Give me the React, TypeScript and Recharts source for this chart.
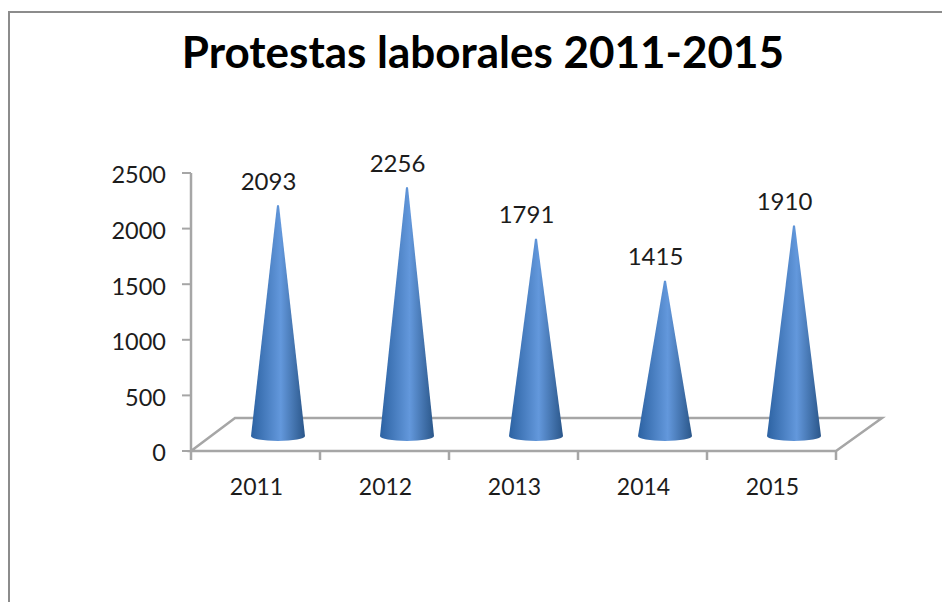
import { BarChart, Bar, XAxis, YAxis, LabelList, usePlotArea } from "recharts";

const years = ["2011", "2012", "2013", "2014", "2015"];
const protests = [2093, 2256, 1791, 1415, 1910];
const yTicks = [0, 500, 1000, 1500, 2000, 2500];

const FONT = "Lato, Carlito, sans-serif";
const GREY = "#a6a6a6";
// the cones stand in the middle of the floor's depth, so they shift from the axes
const DEPTH_X = 44;
const DEPTH_Y = 33;
const CONE_DX = 22;
const CONE_DY = -13;

const data = years.map((year, i) => ({ year, value: protests[i] }));

function Floor() {
  const plot = usePlotArea();
  if (!plot) return null;
  const left = plot.x;
  const right = plot.x + plot.width;
  const base = plot.y + plot.height;
  const band = plot.width / years.length;
  const marks = [0, ...years.map((_, i) => i + 1)];
  return (
    <g stroke={GREY} strokeWidth={2.5} fill="none">
      <path d={`M${left} ${base} L${left + DEPTH_X} ${base - DEPTH_Y} H${right + DEPTH_X + 2} L${right} ${base} Z`} />
      {marks.map((m) => (
        <line key={m} x1={left + m * band} x2={left + m * band} y1={base} y2={base + 9} />
      ))}
    </g>
  );
}

function Cone({ x, y, width, height }: any) {
  const cx = x + width / 2 + CONE_DX;
  const half = width / 2;
  const tip = y + CONE_DY;
  const foot = y + height - 15;
  return (
    <path
      d={`M${cx - 1} ${tip} L${cx + 1} ${tip} L${cx + half} ${foot} A${half} 5 0 0 1 ${cx - half} ${foot} Z`}
      fill="url(#coneFill)"
    />
  );
}

function ValueLabel({ x, y, width, value }: any) {
  return (
    <text x={x + width / 2 + 12.5} y={y - 38} textAnchor="middle" dominantBaseline="central"
      fontFamily={FONT} fontSize={24} fill="#1c1c1c">
      {value}
    </text>
  );
}

export default function App() {
  return (
    <div style={{ position: "absolute", left: 0, top: 0, width: 942, height: 602, overflow: "hidden", background: "#fff" }}>
      <div style={{ position: "absolute", left: 8, top: 11, width: 934, height: 591, borderLeft: "2px solid #8c8c8c", borderTop: "2px solid #8c8c8c", boxSizing: "border-box" }} />
      <div style={{ position: "absolute", left: 0, width: 966, top: 24, textAlign: "center", fontFamily: FONT, fontWeight: 700, fontSize: 44, lineHeight: "54px", color: "#000" }}>
        Protestas laborales 2011-2015
      </div>
      <div style={{ position: "absolute", left: 0, top: 0 }}>
        <BarChart width={942} height={602} data={data} barSize={54}
          margin={{ top: 173, right: 106, bottom: 121, left: 131 }}>
          <defs>
            <linearGradient id="coneFill" x1="0" y1="0" x2="1" y2="0">
              <stop offset="0" stopColor="#2c62a2" />
              <stop offset="0.55" stopColor="#6398dc" />
              <stop offset="1" stopColor="#2a5689" />
            </linearGradient>
          </defs>
          <Floor />
          <XAxis dataKey="year" height={30} axisLine={false} tickLine={false} tickMargin={22}
            tick={{ fontFamily: FONT, fontSize: 23, fill: "#1c1c1c", dx: 1 }} />
          <YAxis width={60} domain={[0, 2500]} ticks={yTicks} interval={0} tickSize={9} tickMargin={16}
            axisLine={{ stroke: GREY, strokeWidth: 2.5 }} tickLine={{ stroke: GREY, strokeWidth: 2 }}
            tick={{ fontFamily: FONT, fontSize: 23.5, fill: "#1c1c1c", dy: 2 }} />
          <Bar dataKey="value" shape={<Cone />} isAnimationActive={false}>
            <LabelList dataKey="value" content={<ValueLabel />} />
          </Bar>
        </BarChart>
      </div>
    </div>
  );
}
